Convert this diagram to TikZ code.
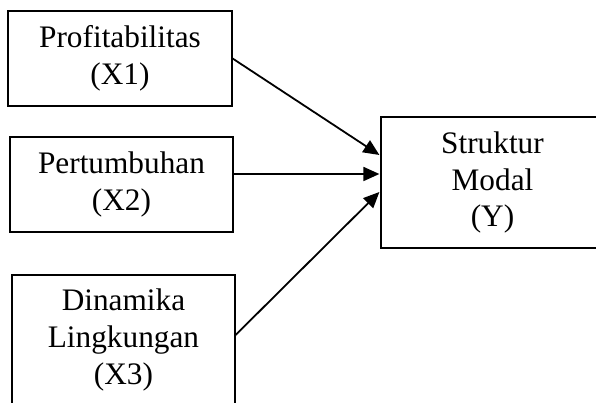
\documentclass[tikz,border=0pt]{standalone}
\usepackage{fontspec}
\setmainfont{Liberation Serif}
\usetikzlibrary{arrows.meta,calc}
\tikzset{
  var/.style={rectangle, draw=black, line width=1.2pt, minimum width=223pt,
    align=center, inner sep=0pt, font=\fontsize{31.3}{36.7}\selectfont},
  arr/.style={-{Triangle[length=16pt,width=14pt]}, line width=1.8pt},
}

\begin{document}
\begin{tikzpicture}[x=1pt,y=-1pt]
  \useasboundingbox (0,0) rectangle (596,403);
  \clip (0,0) rectangle (596,403);
  % independent variables
  \node[var, minimum width=224pt, minimum height=95pt] (xprof) at (120,58.5) {Profitabilitas\\(X1)};
  \node[var, minimum height=95pt] (xtumb) at (121.5,184.5) {Pertumbuhan\\(X2)};
  \node[var, minimum height=130pt] (xdin) at (123.5,340) {Dinamika\\Lingkungan\\(X3)};
  % dependent variable
  \node[var, minimum height=131pt] (ymod) at (492.5,182.5) {Struktur\\Modal\\(Y)};
  \draw[arr] (xprof.east) -- ($(ymod.west)+(-1,-27.5)$);
  \draw[arr] ($(xtumb.east)+(0,-10.5)$) -- ($(ymod.west)+(-1,-8.5)$);
  \draw[arr] ($(xdin.east)+(0,-5)$) -- ($(ymod.west)+(-1,9.5)$);
\end{tikzpicture}
\end{document}
